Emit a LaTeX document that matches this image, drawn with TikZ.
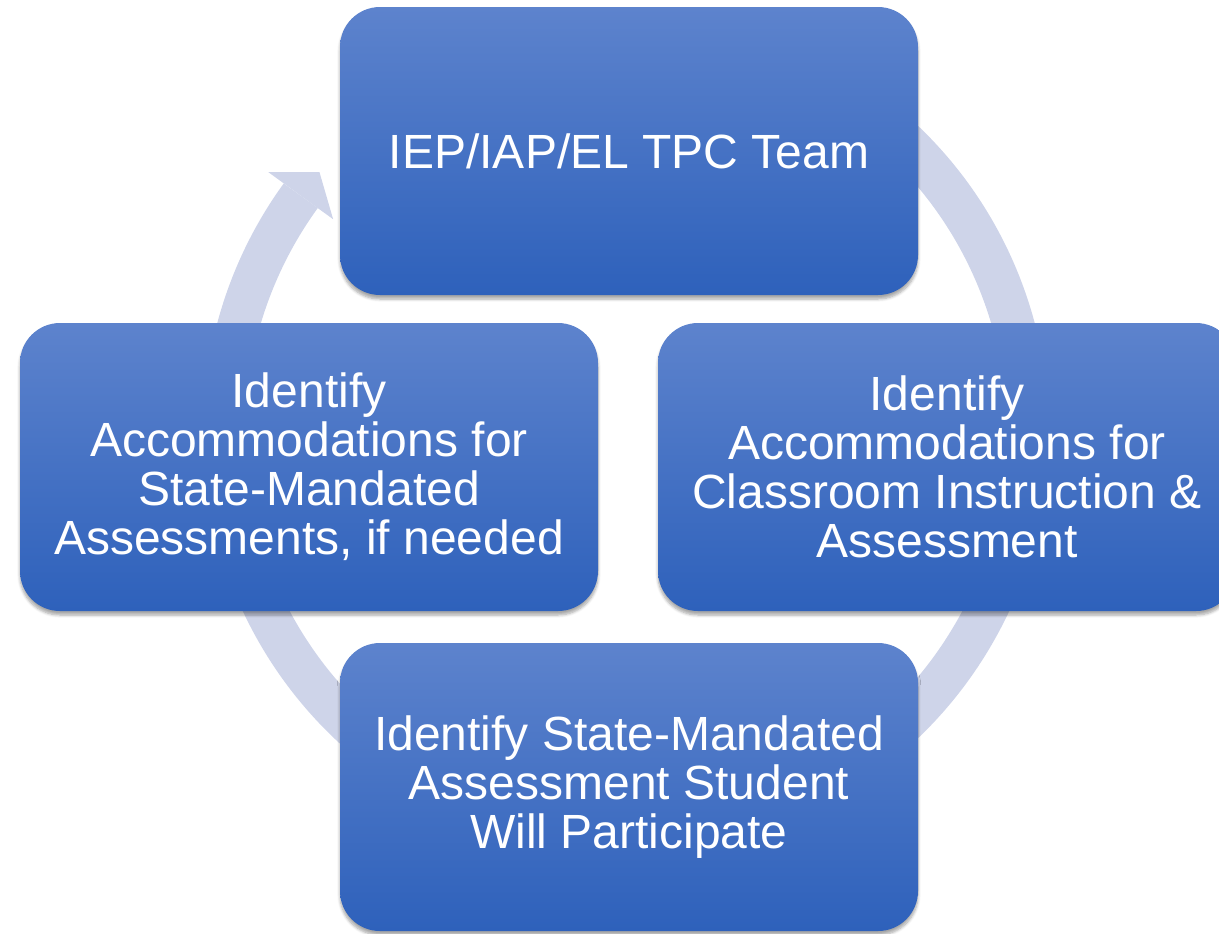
\documentclass[tikz,border=0pt]{standalone}
\usepackage{fontspec}
\setmainfont{Liberation Sans}
\usetikzlibrary{calc,shadows.blur}
\definecolor{ringlav}{RGB}{206,212,233}
\definecolor{boxtop}{RGB}{93,131,205}
\definecolor{boxbot}{RGB}{46,97,187}

\begin{document}
\begin{tikzpicture}[x=0.75pt,y=0.75pt,yscale=-1,xscale=1,
  cyclebox/.style={rounded corners=30pt, minimum width=433.5pt, minimum height=216pt,
    top color=boxtop, bottom color=boxbot, text=white, align=center,
    font=\fontsize{36}{36.75}\selectfont,
    blur shadow={shadow xshift=0pt, shadow yshift=-3pt, shadow opacity=35, shadow blur steps=6}}]
  \useasboundingbox (0,0) rectangle (1219,933);
  \clip (0,0) rectangle (1219,933);

  %Ring behind the boxes
  \coordinate (ringc) at (626,432);
  \draw [ringlav, line width=31.5pt] (ringc) ++(-60:402) arc [start angle=-60, end angle=216, radius=402];
  \fill [ringlav] ($(ringc)+(216:442)$) -- ($(ringc)+(220.3:402)$) -- ($(ringc)+(216:362)$) -- cycle;

  % Boxes
  \node [cyclebox] (team) at (629,151) {IEP/IAP/EL TPC Team};
  \node [cyclebox] (classroom) at (947,467) {Identify\\Accommodations for\\Classroom Instruction \&\\Assessment};
  \node [cyclebox] (statetest) at (629,787) {Identify State-Mandated\\Assessment Student\\Will Participate};
  \node [cyclebox] (stateacc) at (309,467) {Identify\\Accommodations for\\State-Mandated\\Assessments, if needed};

\end{tikzpicture}
\end{document}
